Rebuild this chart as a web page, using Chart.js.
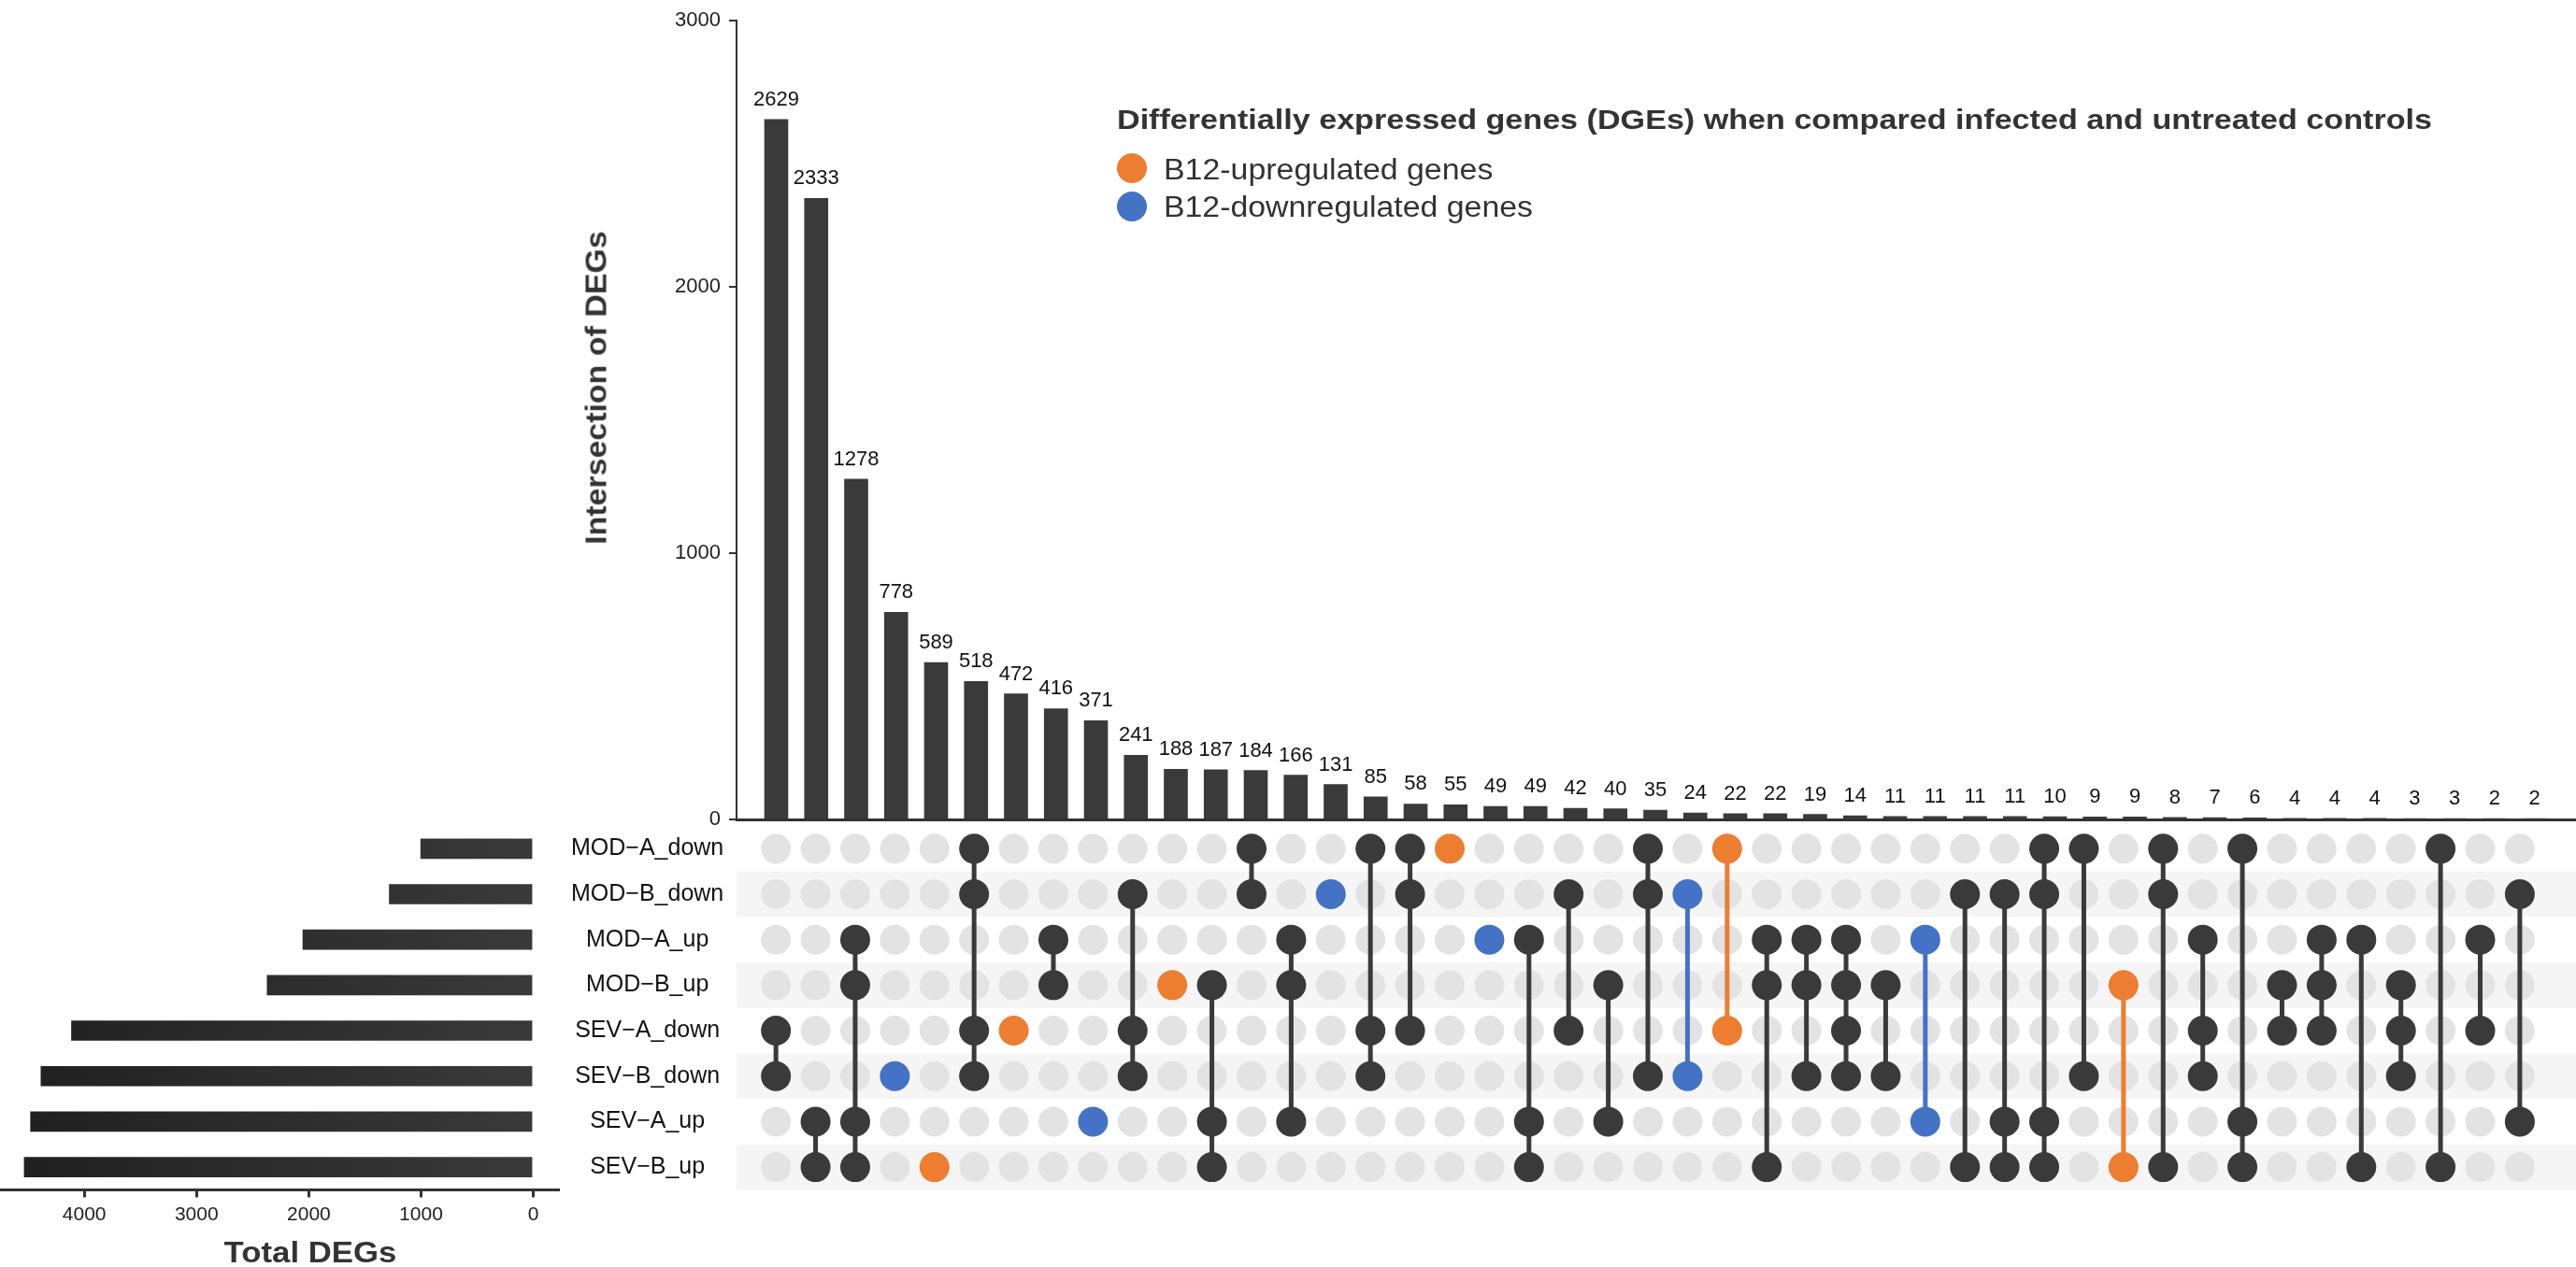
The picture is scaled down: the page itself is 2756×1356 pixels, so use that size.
<!DOCTYPE html>
<html>
<head>
<meta charset="utf-8">
<script src="https://cdn.jsdelivr.net/npm/chart.js@4.4.1/dist/chart.umd.min.js"></script>
<style>
html,body{margin:0;padding:0;background:#fff;}
#wrap{position:relative;width:2756px;height:1356px;overflow:hidden;font-family:"Liberation Sans",Arial,Helvetica,sans-serif;color:#333;}
#wrap canvas{position:absolute;left:0;top:0;}
.txt{position:absolute;white-space:nowrap;line-height:1;}
.left{transform-origin:0 0;}
.ctr{transform-origin:50% 50%;}
.dot{position:absolute;width:32px;height:32px;border-radius:50%;}
</style>
</head>
<body>
<div id="wrap">
  <canvas id="matrix" width="2756" height="1356"></canvas>
  <canvas id="sets" width="2756" height="1356"></canvas>
  <canvas id="bars" width="2756" height="1356"></canvas>
  <div id="title" class="txt left" style="left:1195px;top:112.6px;font-size:30px;font-weight:bold;color:#333;">Differentially expressed genes (DGEs) when compared infected and untreated controls</div>
  <div class="dot" style="left:1195px;top:164px;background:#ED7D31;"></div>
  <div class="dot" style="left:1195px;top:204.7px;background:#4472C4;"></div>
  <div id="leg1" class="txt left" style="left:1245px;top:165.5px;font-size:31px;color:#333;">B12-upregulated genes</div>
  <div id="leg2" class="txt left" style="left:1245px;top:206.2px;font-size:31px;color:#333;">B12-downregulated genes</div>
  <div id="ytitle" class="txt ctr" style="left:638px;top:415px;font-size:31px;font-weight:bold;color:#333;">Intersection of DEGs</div>
  <div id="xtitle" class="txt ctr" style="left:332px;top:1339.5px;font-size:31px;font-weight:bold;color:#333;">Total DEGs</div>
</div>
<script>
// ---------------- DATA ----------------
const setNames = ["MOD−A_down","MOD−B_down","MOD−A_up","MOD−B_up","SEV−A_down","SEV−B_down","SEV−A_up","SEV−B_up"];
const setSizes = [1003, 1283, 2053, 2371, 4114, 4386, 4479, 4535];
const totalTicks = [0, 1000, 2000, 3000, 4000];
const intersectionTicks = [0, 1000, 2000, 3000];

const intersectionSizes = [2629,2333,1278,778,589,518,472,416,371,241,188,187,184,166,131,85,58,55,49,49,42,40,35,24,22,22,19,14,11,11,11,11,10,9,9,8,7,6,4,4,4,3,3,2,2];
// member sets per intersection (indices into setNames)
const intersectionSets = [
  [4,5],[6,7],[2,3,6,7],[5],[7],[0,1,4,5],[4],[2,3],[6],[1,4,5],
  [3],[3,6,7],[0,1],[2,3,6],[1],[0,4,5],[0,1,4],[0],[2],[2,6,7],
  [1,4],[3,6],[0,1,5],[1,5],[0,4],[2,3,7],[2,3,5],[2,3,4,5],[3,5],[2,6],
  [1,7],[1,6,7],[0,1,6,7],[0,5],[3,7],[0,1,7],[2,4,5],[0,6,7],[3,4],[2,3,4],
  [2,7],[3,4,5],[0,7],[2,4],[1,6]
];
// B12 effect per intersection: "up", "down" or ""
const intersectionType = ["","","","down","up","","up","","down","",
  "up","","","","down","","","up","down","",
  "","","","down","up","","","","","down",
  "","","","","up","","","","","",
  "","","","",""];

// ---------------- STYLE ----------------
const DARK = '#3a3a3a', ORANGE = '#ED7D31', BLUE = '#4472C4', EMPTY = '#e3e3e3', STRIPE = '#f5f5f5';
const typeColor = t => t === 'up' ? ORANGE : (t === 'down' ? BLUE : DARK);
const XMIN = -0.994, XMAX = 45.04;
Chart.defaults.font.family = "'Liberation Sans', Arial, Helvetica, sans-serif";

// ---------------- TOP: intersection sizes ----------------
const barLabelPlugin = {
  id: 'barLabels',
  afterDatasetsDraw(chart) {
    const ctx = chart.ctx, meta = chart.getDatasetMeta(0);
    ctx.save();
    ctx.font = "22px 'Liberation Sans', Arial, sans-serif";
    ctx.fillStyle = '#111';
    ctx.textAlign = 'center';
    ctx.textBaseline = 'alphabetic';
    meta.data.forEach((el, i) => ctx.fillText(String(intersectionSizes[i]), el.x, el.y - 15));
    ctx.restore();
  }
};

new Chart(document.getElementById('bars'), {
  type: 'bar',
  data: { datasets: [{ data: intersectionSizes.map((v, i) => ({ x: i, y: v })), backgroundColor: DARK, barThickness: 25 }] },
  options: {
    responsive: false, devicePixelRatio: 1, animation: false, events: [],
    layout: { padding: { left: 0, right: 0, top: 11, bottom: 479 } },
    plugins: { legend: { display: false }, tooltip: { enabled: false } },
    scales: {
      x: { type: 'linear', min: XMIN, max: XMAX, offset: false, grid: { display: false, offset: false }, ticks: { display: false },
           border: { display: true, color: '#333', width: 3 }, afterFit(s) { s.height = 0; } },
      y: { type: 'linear', min: 0, max: 3000,
           afterBuildTicks(s) { s.ticks = intersectionTicks.map(v => ({ value: v })); },
           ticks: { font: { size: 22 }, color: '#222', padding: 9, callback: v => String(v) },
           grid: { drawOnChartArea: false, drawTicks: true, tickLength: 8, color: '#333', lineWidth: 2 },
           border: { display: true, color: '#333', width: 2 },
           afterFit(s) { s.width = 788; } }
    }
  },
  plugins: [barLabelPlugin]
});

// ---------------- MATRIX ----------------
const greyPts = [], memberPts = [], memberColors = [], lineSets = [];
intersectionSets.forEach((rows, i) => {
  for (let r = 0; r < setNames.length; r++) {
    if (rows.includes(r)) { memberPts.push({ x: i, y: r }); memberColors.push(typeColor(intersectionType[i])); }
    else greyPts.push({ x: i, y: r });
  }
  if (rows.length > 1) {
    lineSets.push({ type: 'line', data: [{ x: i, y: Math.min(...rows) }, { x: i, y: Math.max(...rows) }],
      borderColor: typeColor(intersectionType[i]), borderWidth: 5, pointRadius: 0, fill: false, order: 1, clip: false });
  }
});

const stripePlugin = {
  id: 'stripes',
  beforeDatasetsDraw(chart) {
    const { ctx, chartArea, scales: { y } } = chart;
    ctx.save();
    ctx.fillStyle = STRIPE;
    for (let r = 1; r < setNames.length; r += 2) {
      const a = y.getPixelForValue(r - 0.5), b = y.getPixelForValue(r + 0.5);
      ctx.fillRect(chartArea.left, Math.min(a, b), chart.width - chartArea.left, Math.abs(b - a));
    }
    ctx.restore();
  }
};

new Chart(document.getElementById('matrix'), {
  type: 'scatter',
  data: {
    datasets: [
      { data: memberPts, pointBackgroundColor: memberColors, pointBorderWidth: 0, pointRadius: 16, order: 0, clip: false },
      ...lineSets,
      { data: greyPts, pointBackgroundColor: EMPTY, pointBorderWidth: 0, pointRadius: 16, order: 2, clip: false }
    ]
  },
  options: {
    responsive: false, devicePixelRatio: 1, animation: false, events: [],
    layout: { padding: { left: 788, right: 0, top: 884, bottom: 82.6 } },
    plugins: { legend: { display: false }, tooltip: { enabled: false } },
    scales: {
      x: { type: 'linear', min: XMIN, max: XMAX, display: false },
      y: { type: 'linear', min: -0.5, max: 7.5, reverse: true, display: false }
    }
  },
  plugins: [stripePlugin]
});

// ---------------- LEFT: set sizes ----------------
const setBarFill = (c) => {
  const area = c.chart.chartArea;
  if (!area) return '#333';
  const g = c.chart.ctx.createLinearGradient(area.left, 0, area.right, 0);
  g.addColorStop(0, '#1f1f1f');
  g.addColorStop(1, '#3b3b3b');
  return g;
};
new Chart(document.getElementById('sets'), {
  type: 'bar',
  data: { labels: setNames, datasets: [{ data: setSizes, backgroundColor: setBarFill, barThickness: 21 }] },
  options: {
    indexAxis: 'y', responsive: false, devicePixelRatio: 1, animation: false, events: [],
    layout: { padding: { left: 0, top: 884, right: 1959, bottom: 0 } },
    plugins: { legend: { display: false }, tooltip: { enabled: false } },
    scales: {
      x: { type: 'linear', reverse: true, min: -220, max: 4751,
           afterBuildTicks(s) { s.ticks = totalTicks.map(v => ({ value: v })); },
           ticks: { font: { size: 21 }, color: '#222', padding: 6, callback: v => String(v) },
           grid: { drawOnChartArea: false, drawTicks: true, tickLength: 8, color: '#333', lineWidth: 3 },
           border: { display: true, color: '#333', width: 3 },
           afterFit(s) { s.height = 82.6; } },
      y: { type: 'category', position: 'right', offset: true, grid: { display: false }, border: { display: false },
           ticks: { font: { size: 25 }, color: '#111', crossAlign: 'center', padding: 6 },
           afterFit(s) { s.width = 200; } }
    }
  }
});

// ---------------- text fitting ----------------
function fitLeft(id, target) {
  const el = document.getElementById(id);
  el.style.transform = 'scaleX(' + (target / el.offsetWidth) + ')';
}
function fitCenter(id, target, rot) {
  const el = document.getElementById(id);
  el.style.transform = 'translate(-50%,-50%) rotate(' + rot + 'deg) scaleX(' + (target / el.offsetWidth) + ')';
}
fitLeft('title', 1407);
fitLeft('leg1', 352);
fitLeft('leg2', 395);
fitCenter('ytitle', 336, -90);
fitCenter('xtitle', 185, 0);
</script>
</body>
</html>
